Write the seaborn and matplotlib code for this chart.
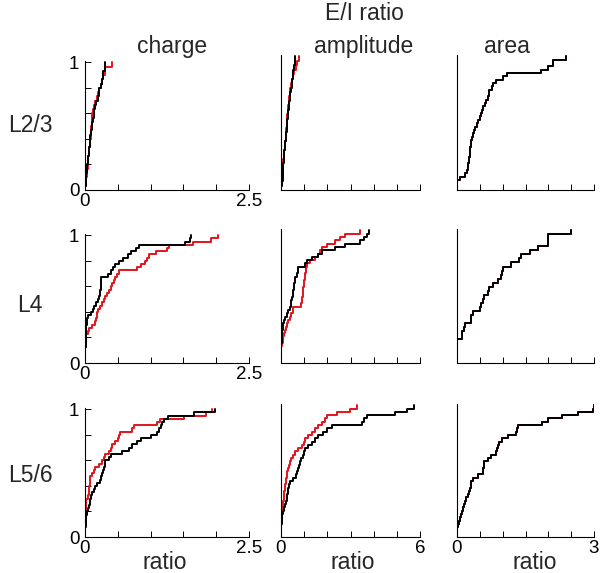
import numpy as np
import matplotlib
matplotlib.use("Agg")
import matplotlib.pyplot as plt
import seaborn as sns

sns.set_style("ticks")
plt.rcParams['font.family'] = ['Liberation Sans', 'DejaVu Sans']

RED = "#e3141c"

layers = ["L2/3", "L4", "L5/6"]
measures = ["charge", "amplitude", "area"]
x_max = [2.5, 6, 3]
x_step = [0.5, 1, 0.5]
x_end_labels = ["2.5", "6", "3"]

# E/I ratio samples per cell (black / red groups)
charge_l23_black = [0.0, 0.01, 0.015, 0.02, 0.03, 0.035, 0.04, 0.05, 0.055, 0.06, 0.07, 0.075, 0.08, 0.09, 0.1,
                    0.11, 0.12, 0.13, 0.14, 0.15, 0.17, 0.2, 0.21, 0.22, 0.24, 0.26, 0.27, 0.28, 0.3, 0.31]
charge_l23_red = [0.0, 0.01, 0.02, 0.025, 0.03, 0.04, 0.045, 0.05, 0.06, 0.065, 0.07, 0.08, 0.085, 0.09, 0.095,
                  0.1, 0.1, 0.11, 0.12, 0.13, 0.15, 0.18, 0.2, 0.22, 0.24, 0.26, 0.28, 0.3, 0.31, 0.41]

charge_l4_black = [0.0, 0.002, 0.004, 0.005, 0.006, 0.008, 0.009, 0.01, 0.012, 0.013, 0.015, 0.02, 0.03, 0.035,
                   0.04, 0.09, 0.12, 0.14, 0.17, 0.2, 0.22, 0.23, 0.235, 0.24, 0.242, 0.245, 0.245, 0.35, 0.4,
                   0.43, 0.45, 0.525, 0.575, 0.65, 0.7, 0.78, 0.83, 1.52, 1.6, 1.62]
charge_l4_red = [0.0, 0.001, 0.002, 0.003, 0.005, 0.008, 0.012, 0.016, 0.02, 0.04, 0.056, 0.107, 0.158, 0.17,
                 0.18, 0.184, 0.2, 0.224, 0.26, 0.29, 0.31, 0.34, 0.36, 0.39, 0.41, 0.44, 0.46, 0.49, 0.515, 0.8,
                 0.85, 0.92, 0.95, 0.97, 1.08, 1.25, 1.28, 1.64, 1.92, 2.02]

charge_l56_black = [0.0, 0.003, 0.006, 0.01, 0.012, 0.016, 0.02, 0.03, 0.045, 0.056, 0.07, 0.08, 0.095, 0.107,
                    0.133, 0.16, 0.18, 0.235, 0.25, 0.26, 0.27, 0.286, 0.3, 0.31, 0.36, 0.39, 0.57, 0.67, 0.72,
                    0.8, 0.85, 1.0, 1.1, 1.13, 1.16, 1.18, 1.2, 1.26, 1.66, 1.98]
charge_l56_red = [0.0, 0.002, 0.004, 0.006, 0.008, 0.01, 0.012, 0.014, 0.016, 0.018, 0.019, 0.02, 0.04, 0.056,
                  0.06, 0.065, 0.07, 0.075, 0.08, 0.107, 0.13, 0.158, 0.21, 0.26, 0.29, 0.31, 0.36, 0.39, 0.41,
                  0.46, 0.5, 0.515, 0.54, 0.72, 0.745, 1.1, 1.15, 1.51, 1.84, 1.94]

amp_l23_black = [0.0, 0.03, 0.07, 0.08, 0.09, 0.1, 0.12, 0.13, 0.15, 0.17, 0.19, 0.2, 0.22, 0.24, 0.25, 0.27,
                 0.29, 0.31, 0.33, 0.35, 0.37, 0.39, 0.42, 0.46, 0.49, 0.51, 0.53, 0.56, 0.59, 0.61]
amp_l23_red = [0.0, 0.0, 0.02, 0.05, 0.08, 0.09, 0.1, 0.12, 0.14, 0.16, 0.18, 0.2, 0.21, 0.23, 0.25, 0.26,
               0.28, 0.3, 0.32, 0.34, 0.36, 0.38, 0.41, 0.44, 0.48, 0.52, 0.57, 0.64, 0.71, 0.79]

amp_l4_black = [0.0, 0.0, 0.005, 0.01, 0.015, 0.02, 0.03, 0.04, 0.05, 0.06, 0.07, 0.1, 0.14, 0.17, 0.25, 0.32,
                0.39, 0.42, 0.44, 0.46, 0.5, 0.53, 0.56, 0.58, 0.6, 0.61, 0.68, 0.72, 0.75, 1.05, 1.11, 1.33,
                1.61, 1.76, 2.33, 2.77, 3.41, 3.6, 3.7, 3.82]
amp_l4_red = [0.0, 0.0, 0.005, 0.01, 0.02, 0.05, 0.08, 0.1, 0.14, 0.17, 0.22, 0.25, 0.32, 0.39, 0.45, 0.5, 0.53,
              0.85, 0.89, 0.9, 0.93, 0.95, 0.97, 0.99, 1.0, 1.02, 1.04, 1.06, 1.08, 1.11, 1.25, 1.47, 1.6, 1.69,
              1.76, 1.97, 2.33, 2.55, 2.77, 3.41]

amp_l56_black = [0.0, 0.0, 0.01, 0.02, 0.03, 0.04, 0.05, 0.1, 0.14, 0.18, 0.22, 0.25, 0.28, 0.3, 0.32, 0.35,
                 0.39, 0.53, 0.65, 0.7, 0.75, 0.78, 0.82, 0.88, 0.94, 1.0, 1.04, 1.18, 1.33, 1.47, 1.61, 1.83,
                 1.97, 2.19, 3.49, 3.6, 3.7, 4.93, 5.43, 5.75]
amp_l56_red = [0.0, 0.0, 0.01, 0.02, 0.03, 0.04, 0.05, 0.06, 0.065, 0.07, 0.09, 0.11, 0.13, 0.15, 0.16, 0.17,
               0.2, 0.22, 0.24, 0.28, 0.32, 0.36, 0.39, 0.45, 0.5, 0.6, 0.75, 0.89, 1.0, 1.04, 1.18, 1.33, 1.47,
               1.61, 1.76, 1.9, 1.97, 2.41, 2.98, 3.27]

# area: both groups overlap almost exactly
area_l23 = [0.0, 0.0, 0.0, 0.06, 0.17, 0.22, 0.24, 0.25, 0.26, 0.27, 0.28, 0.29, 0.295, 0.3, 0.31, 0.33, 0.35,
            0.37, 0.39, 0.43, 0.46, 0.5, 0.53, 0.55, 0.57, 0.61, 0.64, 0.67, 0.69, 0.71, 0.76, 0.79, 0.86, 1.0,
            1.09, 1.84, 1.99, 2.1, 2.1, 2.39]
area_l4 = [0.0, 0.0, 0.0, 0.0, 0.0, 0.0, 0.1, 0.12, 0.15, 0.17, 0.3, 0.31, 0.35, 0.5, 0.53, 0.57, 0.6, 0.68,
           0.71, 0.79, 0.9, 0.97, 0.98, 1.0, 1.19, 1.35, 1.4, 1.59, 1.77, 1.99, 1.99, 1.99, 2.5]
area_l56 = [0.0, 0.0, 0.005, 0.02, 0.044, 0.07, 0.095, 0.11, 0.13, 0.15, 0.17, 0.2, 0.23, 0.26, 0.28, 0.3, 0.31,
            0.35, 0.46, 0.57, 0.58, 0.59, 0.6, 0.68, 0.75, 0.86, 0.88, 0.9, 0.91, 0.99, 1.11, 1.3, 1.32, 1.33,
            1.86, 1.99, 2.3, 2.64, 2.97, 2.99]

grid = [
    [(charge_l23_black, charge_l23_red), (amp_l23_black, amp_l23_red), (area_l23, area_l23)],
    [(charge_l4_black, charge_l4_red), (amp_l4_black, amp_l4_red), (area_l4, area_l4)],
    [(charge_l56_black, charge_l56_red), (amp_l56_black, amp_l56_red), (area_l56, area_l56)],
]

# panel boxes in pixels
W, H = 600, 573
col_x = [(85, 164), (281, 139), (457, 137)]
row_y_first = [(61, 190), (234, 363), (408, 537)]
row_y_other = [(55, 190), (229, 363), (404, 537)]

fig = plt.figure(figsize=(6, 5.73), dpi=100)

for r in range(3):
    for c in range(3):
        left, width = col_x[c]
        top, bottom = row_y_first[r] if c == 0 else row_y_other[r]
        ax = fig.add_axes([left / W, 1 - bottom / H, width / W, (bottom - top) / H])
        black, red = grid[r][c]
        sns.ecdfplot(x=red, ax=ax, color=RED, linewidth=1.4)
        sns.ecdfplot(x=black, ax=ax, color="black", linewidth=1.4)
        ax.set_xlim(0, x_max[c])
        ax.set_ylim(0, 1.01)
        ax.set_xlabel("")
        ax.set_ylabel("")
        sns.despine(ax=ax)
        for s in ["left", "bottom"]:
            ax.spines[s].set_linewidth(0.8)
            ax.spines[s].set_color("black")

        xt = np.arange(0, x_max[c] + 1e-9, x_step[c])
        ax.set_xticks(xt)
        if c == 0 or r == 2:
            labs = [""] * len(xt)
            labs[0] = "0"
            labs[-1] = x_end_labels[c]
        else:
            labs = [""] * len(xt)
        ax.set_xticklabels(labs)

        if c == 0:
            yt = np.arange(0, 1.01, 0.2)
            ax.set_yticks(yt)
            ax.set_yticklabels(["0", "", "", "", "", "1"])
        else:
            ax.set_yticks([])
        ax.tick_params(direction="in", length=4, width=0.7, labelsize=13.5, colors="black")
        ax.tick_params(axis="x", pad=2)
        ax.tick_params(axis="y", pad=4)

fig.text(364 / W, 1 - 20 / H, "E/I ratio", ha="center", va="baseline", fontsize=16.5)
title_x = [172, 364, 507]
for c in range(3):
    fig.text(title_x[c] / W, 1 - 53 / H, measures[c], ha="center", va="baseline", fontsize=16.5)
    
label_y = [125, 305, 475]
for r in range(3):
    fig.text(30 / W, 1 - label_y[r] / H, layers[r], ha="center", va="center", fontsize=16.5)

ratio_x = [165, 353, 535]
for c in range(3):
    fig.text(ratio_x[c] / W, 1 - 569 / H, "ratio", ha="center", va="baseline", fontsize=16.5)

fig.savefig("out.png", dpi=100)
